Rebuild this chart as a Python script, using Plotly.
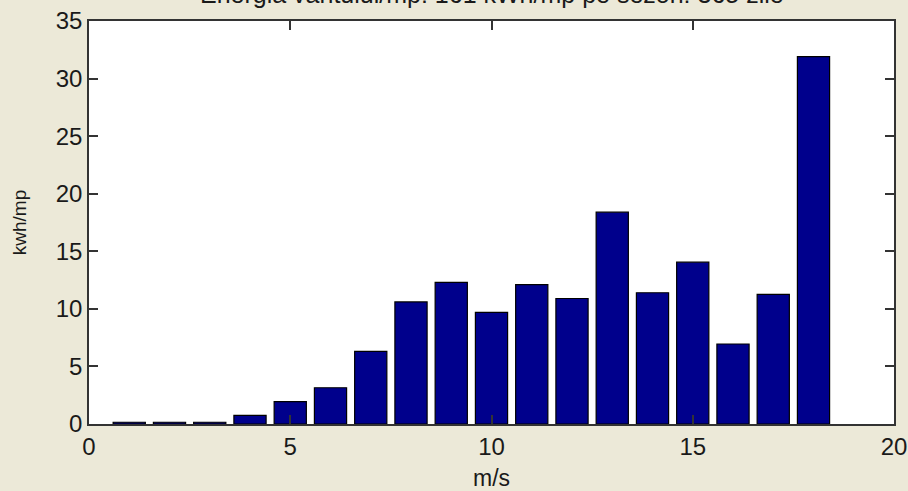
import plotly.graph_objects as go

speeds = list(range(1, 19))
energy = [0.15, 0.15, 0.15, 0.75, 1.95, 3.15, 6.3, 10.6, 12.3, 9.7, 12.1, 10.9, 18.4, 11.4, 14.05, 6.95, 11.25, 31.9]
title_text = "Energia vantului/mp: 161 kWh/mp pe sezon: 365 zile"
x_label = "m/s"
y_label = "kwh/mp"
x_ticks = [0, 5, 10, 15, 20]
y_ticks = [0, 5, 10, 15, 20, 25, 30, 35]

fam = "Liberation Sans, Arial, sans-serif"
tick_font = dict(family=fam, size=24, color="#1a1a1a")
xlab_font = dict(family=fam, size=23, color="#1a1a1a")
ylab_font = dict(family=fam, size=19, color="#1a1a1a")
title_font = dict(family=fam, size=25, color="#1a1a1a")

fig = go.Figure(go.Bar(
    x=speeds, y=energy, width=0.8,
    marker=dict(color="#00008C", line=dict(color="#000000", width=1.2)),
))

fig.update_layout(
    width=908, height=491,
    margin=dict(l=89, r=14, t=21, b=67, autoexpand=False),
    paper_bgcolor="#ECE9D8", plot_bgcolor="#FFFFFF",
    font=tick_font, showlegend=False,
    xaxis=dict(range=[0, 20], tickvals=x_ticks, ticks="inside", ticklen=9, tickwidth=1.5,
               tickcolor="#333", showline=True, linecolor="#333", linewidth=1.5, mirror="ticks",
               showgrid=False, zeroline=False, automargin=False,
               title=dict(text=x_label, standoff=20, font=xlab_font), tickfont=tick_font),
    yaxis=dict(range=[0, 35], tickvals=y_ticks, ticks="inside", ticklen=9, tickwidth=1.5,
               tickcolor="#333", showline=True, linecolor="#333", linewidth=1.5, mirror="ticks",
               showgrid=False, zeroline=False, automargin=False,
               title=dict(text=y_label, standoff=24, font=ylab_font), tickfont=tick_font),
    annotations=[dict(text=title_text, xref="paper", yref="paper", x=0.5, y=1.0,
                      xanchor="center", yanchor="bottom", yshift=11, showarrow=False,
                      font=title_font)],
)

fig.write_html("out.html", config={"displayModeBar": False},
               post_script="document.body.style.margin='0';document.body.style.background='#ECE9D8';")
